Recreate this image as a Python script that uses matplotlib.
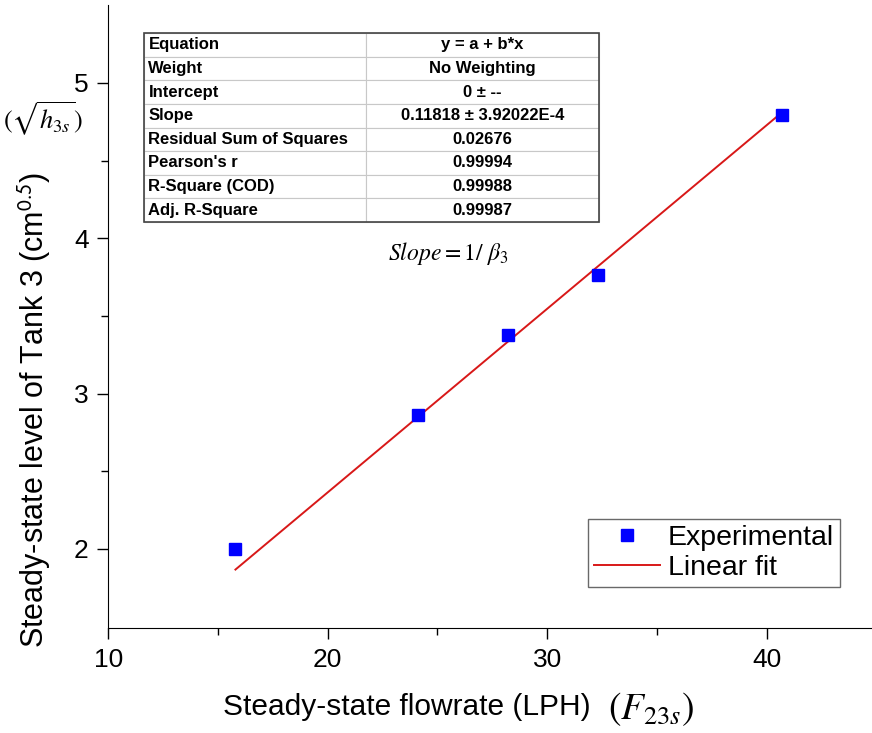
import matplotlib
matplotlib.use("Agg")
import matplotlib.pyplot as plt
import numpy as np

plt.rcParams['font.family'] = ['Liberation Sans', 'DejaVu Sans']
plt.rcParams['mathtext.fontset'] = 'stix'

# data
flow = [15.8, 24.1, 28.2, 32.3, 40.7]
level = [2.00, 2.86, 3.38, 3.76, 4.79]
slope = 0.11818

table_rows = [
    ["Equation", "y = a + b*x"],
    ["Weight", "No Weighting"],
    ["Intercept", "0 \u00b1 --"],
    ["Slope", "0.11818 \u00b1 3.92022E-4"],
    ["Residual Sum of Squares", "0.02676"],
    ["Pearson's r", "0.99994"],
    ["R-Square (COD)", "0.99988"],
    ["Adj. R-Square", "0.99987"],
]

fig = plt.figure(figsize=(8.72, 7.33), dpi=100)
ax = fig.add_axes([0.124, 0.143, 0.876, 0.85])

ax.plot(flow, level, 's', color='#0000ff', markersize=9, label='Experimental', zorder=3)
xf = np.array([min(flow), max(flow)])
ax.plot(xf, slope * xf, '-', color='#d81818', lw=1.4, label='Linear fit', zorder=2)

ax.set_xlim(10, 44.8)
ax.set_ylim(1.49, 5.5)
ax.set_xticks([10, 20, 30, 40])
ax.set_xticks([15, 25, 35], minor=True)
ax.set_yticks([2, 3, 4, 5])
ax.set_yticks([2.5, 3.5, 4.5], minor=True)
ax.spines['top'].set_visible(False)
ax.spines['right'].set_visible(False)
ax.tick_params(which='major', direction='out', length=8, width=1, labelsize=19, pad=6)
ax.tick_params(which='minor', direction='out', length=5, width=1)

# x label: plain part + larger math part
fig.text(0.677, 0.035, "Steady-state flowrate (LPH)", fontsize=21.5, ha='right', va='center')
fig.text(0.697, 0.033, "$(F_{23s})$", fontsize=27, ha='left', va='center')

ax.set_ylabel("Steady-state level of Tank 3 (cm$^{\\mathsf{0.5}}$)", fontsize=22)
ax.yaxis.set_label_coords(-0.072, 0.35)
fig.text(0.049, 0.838, "$(\\sqrt{h_{3s}})$", fontsize=19, ha='center', va='center')

ax.text(25.5, 3.9, "$Slope = 1/\\ \\beta_3$", fontsize=17, ha='center', va='center')

tbl = ax.table(cellText=table_rows, colWidths=[0.29, 0.305],
               bbox=[0.047, 0.652, 0.596, 0.303], cellLoc='center')
tbl.auto_set_font_size(False)
for (r, c), cell in tbl.get_celld().items():
    cell.set_edgecolor('#c8c8c8')
    cell.set_linewidth(0.8)
    cell.get_text().set_fontsize(12)
    cell.get_text().set_fontweight('bold')
    if c == 0:
        cell.get_text().set_ha('left')
        cell.PAD = 0.02
# outer border
ax.add_patch(plt.Rectangle((0.047, 0.652), 0.596, 0.303, transform=ax.transAxes,
                           fill=False, edgecolor='#444444', lw=1.2, zorder=5))

leg = ax.legend(loc='lower right', bbox_to_anchor=(0.958, 0.066), fontsize=20.5,
                frameon=True, fancybox=False, edgecolor='#444444',
                handlelength=2.3, handletextpad=0.3, borderpad=0.2, labelspacing=0.15,
                borderaxespad=0)
leg.get_frame().set_linewidth(1.0)

fig.savefig("out.png", dpi=100)
